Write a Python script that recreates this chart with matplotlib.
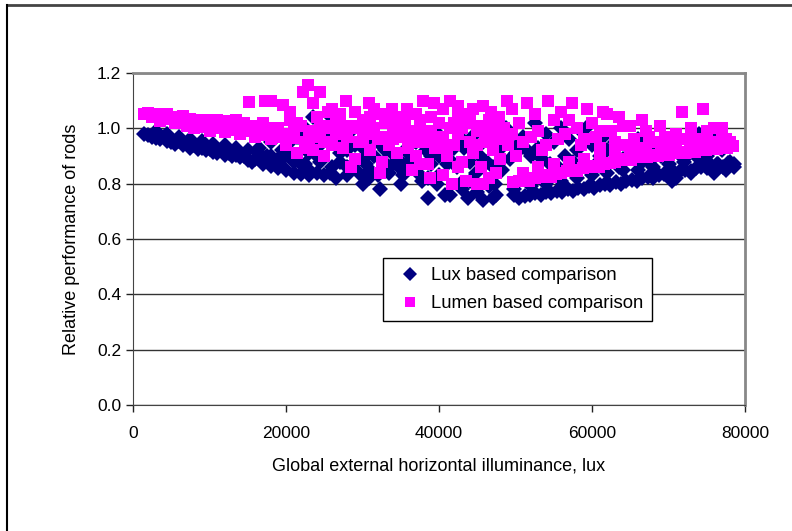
import matplotlib
matplotlib.use("Agg")
import matplotlib.pyplot as plt
from matplotlib.lines import Line2D

plt.rcParams['font.family'] = ['Liberation Sans', 'DejaVu Sans']

# Lux based comparison: dense band at low illuminance
lux_x_left = [1500, 2000, 2500, 3000, 3500, 4000, 4500, 5000, 5500, 6000, 6500, 7000,
              7500, 8000, 8500, 9000, 9500, 10000, 10500, 11000, 11500, 12000, 12500,
              13000, 13500, 14000, 14500, 15000, 15500, 16000, 17000, 18000, 19000,
              20000, 21000, 22000, 23000, 24000, 25000,
              3000, 4500, 6000, 7500, 9000, 10500, 12000, 13500, 15000, 16500, 18000,
              19500, 21000, 22500]
lux_y_left = [0.98, 0.975, 0.97, 0.965, 0.96, 0.97, 0.955, 0.95, 0.945, 0.955, 0.94, 0.945,
              0.93, 0.94, 0.925, 0.93, 0.92, 0.925, 0.915, 0.91, 0.92, 0.905, 0.91,
              0.90, 0.905, 0.895, 0.90, 0.885, 0.88, 0.89, 0.87, 0.865, 0.855,
              0.85, 0.84, 0.835, 0.83, 0.84, 0.83,
              0.99, 0.98, 0.97, 0.96, 0.955, 0.945, 0.94, 0.93, 0.92, 0.91, 0.90,
              0.89, 0.88, 0.87]

# Lux: scattered middle
lux_x_mid = [16500, 17500, 18500, 19500, 20500, 21000, 21500, 22000, 22500, 23000, 23500,
             24000, 24500, 25000, 25500, 26000, 26500, 27000, 27500, 28000, 28500, 29000,
             29500, 30000, 30500, 31000, 31500, 32000, 32300, 32800, 33300, 33800, 34300,
             34800, 35300, 35800, 36300, 36800, 37300, 37800, 38300, 38600, 39000, 39500,
             40000, 40500, 40800, 41300, 41800, 42300, 42800, 43300, 43800, 44300, 44800,
             45300, 45800, 46300, 46800, 47000, 47300, 47800, 48300, 48800, 49300, 49800,
             50300, 18000, 20000, 22000, 24000, 26000, 28000, 30000, 32000, 34000, 36000,
             38000, 40000, 42000, 44000, 46000, 48000, 50000, 41500, 39800, 43000, 45000,
             47500, 35000, 33500, 30800, 28000, 25800,
             19000, 23000, 27000, 29000, 31000, 33000, 35000, 37000, 39000, 41000, 43000,
             45000, 47000, 49000, 36000, 38500, 44000, 46500, 26500, 30000]
lux_y_mid = [0.93, 0.90, 0.88, 0.92, 0.95, 0.89, 0.97, 0.87, 1.00, 0.85, 1.04,
             0.93, 0.88, 0.97, 1.05, 0.86, 0.82, 0.91, 0.95, 0.86, 0.99, 0.88,
             0.84, 0.93, 0.87, 0.97, 0.90, 0.83, 0.78, 0.88, 0.95, 0.91, 1.00,
             0.86, 0.83, 0.93, 0.89, 0.97, 0.84, 0.81, 0.92, 0.75, 0.87, 0.99,
             0.83, 0.94, 0.76, 0.89, 1.01, 0.86, 0.80, 0.93, 0.75, 0.97, 0.84,
             0.90, 0.74, 0.88, 0.95, 0.75, 0.80, 0.92, 0.85, 1.00, 0.89, 0.78,
             0.94, 0.95, 0.91, 0.96, 0.90, 0.98, 0.92, 0.89, 0.95, 0.87, 0.91,
             0.96, 0.90, 0.93, 0.88, 0.99, 0.95, 0.91, 0.76, 0.80, 0.78, 0.77,
             0.76, 0.80, 0.84, 0.82, 0.83, 0.84,
             0.89, 0.91, 0.88, 0.94, 0.85, 0.92, 0.88, 0.95, 0.90, 0.87, 0.96,
             0.93, 0.86, 0.96, 0.86, 0.82, 0.81, 0.79, 0.96, 0.80]

# Lux: scattered upper group at high illuminance
lux_x_right = [51000, 52000, 52500, 53000, 54000, 54500, 55000, 56000, 56500, 57000, 58000,
               58500, 59000, 59500, 60000, 61000, 61500, 62000, 63000, 64000, 65000, 66000,
               66500, 67000, 68000, 69000, 70000, 71000, 72000, 73000, 74000, 75000, 76000,
               76500, 77000, 78000, 78500, 77500, 76000, 74500, 73000, 71000, 70500,
               53500, 55500, 57500, 60500, 63500, 67500, 51500]
lux_y_right = [0.97, 0.90, 1.02, 0.93, 0.98, 0.87, 0.95, 1.00, 0.90, 0.96, 0.92,
               0.99, 0.88, 1.01, 0.94, 0.90, 0.97, 0.92, 0.95, 0.89, 0.93, 0.96,
               0.88, 0.91, 0.94, 0.90, 0.92, 0.95, 0.89, 0.93, 0.98, 0.90, 0.96,
               0.87, 0.92, 0.88, 0.86, 0.85, 0.84, 0.88, 0.84, 0.82, 0.81,
               0.89, 0.86, 0.88, 0.87, 0.86, 0.88, 0.92]

# Lux: rising lower band at high illuminance
lux_x_band = [49800, 50500, 51200, 51900, 52600, 53300, 54000, 54700, 55400, 56100, 56800,
              57500, 58200, 58900, 59600, 60300, 61000, 61700, 62400, 63100, 63800, 64500,
              65200, 65900, 66600, 67300, 68000, 68700, 69400, 70100, 70800, 71500, 72200,
              72900, 73600, 74300, 75000, 75700, 76400, 77100, 77800, 78500,
              52000, 54000, 56000, 58000, 60000, 62000, 64000, 66000, 68000, 70000, 72000, 74000]
lux_y_band = [0.76, 0.75, 0.755, 0.76, 0.765, 0.76, 0.77, 0.765, 0.775, 0.77, 0.78,
              0.775, 0.785, 0.78, 0.79, 0.785, 0.795, 0.80, 0.795, 0.805, 0.80, 0.81,
              0.815, 0.81, 0.82, 0.825, 0.82, 0.83, 0.835, 0.83, 0.84, 0.845, 0.85,
              0.845, 0.855, 0.86, 0.855, 0.865, 0.87, 0.86, 0.875, 0.87,
              0.79, 0.80, 0.81, 0.82, 0.83, 0.84, 0.85, 0.85, 0.86, 0.87, 0.88, 0.89]

# Lumen based comparison: dense band at low illuminance
lumen_x_left = [1500, 2000, 2500, 3000, 3500, 4000, 4500, 5000, 5500, 6000, 6500, 7000,
                7500, 8000, 8500, 9000, 9500, 10000, 10500, 11000, 11500, 12000, 12500,
                13000, 13500, 14000, 14500, 15000, 16000, 17000, 18000,
                8000, 10000, 12000, 14000, 16000, 18000, 20000,
                3500, 5500, 7000, 9000, 11000, 13000, 15000, 17000, 19000, 21000]
lumen_y_left = [1.05, 1.055, 1.04, 1.05, 1.045, 1.04, 1.05, 1.035, 1.04, 1.03, 1.045, 1.03,
                1.035, 1.025, 1.03, 1.02, 1.03, 1.025, 1.015, 1.03, 1.02, 1.025, 1.01,
                1.02, 1.03, 1.015, 1.02, 1.005, 1.01, 0.99, 1.00,
                1.00, 0.99, 0.985, 0.98, 0.97, 0.96, 0.955,
                1.025, 1.02, 1.01, 1.005, 1.0, 0.995, 0.99, 0.975, 0.97, 0.965]

# Lumen: scattered middle
lumen_x_mid = [15100, 17200, 18100, 19600, 20500, 22200, 22900, 23500, 24400, 25500, 26500,
               27900, 29000, 30900, 31500, 32500, 33800, 35000, 35800, 37000, 37900, 39400,
               40500, 41400, 42500, 43500, 44500, 45800, 46800, 47800, 48900, 49500,
               16000, 17000, 18000, 19000, 20000, 20500, 21000, 21500, 22000, 22500, 23000,
               23500, 24000, 24500, 25000, 25500, 26000, 26500, 27000, 27500, 28000, 28500,
               29000, 29500, 30000, 30500, 31000, 31500, 32000, 32500, 33000, 33500, 34000,
               34500, 35000, 35500, 36000, 36500, 37000, 37500, 38000, 38500, 39000, 39500,
               40000, 40500, 41000, 41500, 42000, 42500, 43000, 43500, 44000, 44500, 45000,
               45500, 46000, 46500, 47000, 47500, 48000, 48500, 49000, 49500, 50000,
               28500, 32300, 36500, 38800, 40500, 41700, 43500, 45000, 45800, 46500, 47500,
               37500, 42500,
               21000, 24000, 27000, 30000, 33000, 36000, 39000, 42000, 45000, 48000,
               22500, 26000, 29500, 34500, 38000, 41000, 44000, 47000, 25000, 31000,
               20000, 23000, 26000, 28000, 31000, 34000, 37000, 40000, 43000, 46000,
               21500, 24500, 27500, 30500, 33500, 36500, 39500, 42500, 45500, 48500]
lumen_y_mid = [1.096, 1.10, 1.10, 1.085, 1.06, 1.13, 1.157, 1.09, 1.13, 1.06, 1.04,
               1.10, 1.06, 1.09, 1.07, 1.05, 1.07, 1.04, 1.07, 1.05, 1.10, 1.09,
               1.07, 1.10, 1.08, 1.05, 1.07, 1.08, 1.06, 1.04, 1.10, 1.07,
               0.98, 1.02, 0.96, 1.00, 0.94, 1.03, 0.97, 0.91, 1.01, 0.95, 0.99,
               0.92, 1.04, 0.97, 0.90, 1.00, 0.94, 0.98, 1.02, 0.93, 0.97, 1.01,
               0.89, 0.95, 1.03, 0.98, 0.92, 1.00, 0.96, 0.88, 1.02, 0.94, 0.99,
               0.91, 0.97, 1.01, 0.93, 0.98, 0.90, 1.03, 0.95, 0.87, 0.99, 0.93,
               1.02, 0.96, 0.90, 1.00, 0.94, 0.98, 0.88, 1.02, 0.95, 0.91, 0.99,
               0.86, 0.97, 1.03, 0.92, 0.96, 0.89, 1.00, 0.94, 0.98, 0.90,
               0.86, 0.84, 0.85, 0.82, 0.83, 0.80, 0.81, 0.80, 0.80, 0.82, 0.84,
               0.87, 0.86,
               1.00, 0.99, 1.05, 0.96, 0.97, 1.05, 1.04, 1.02, 0.94, 0.97,
               0.93, 1.07, 1.00, 1.03, 0.99, 0.93, 1.03, 1.00, 0.95, 1.04,
               0.98, 0.96, 1.01, 0.99, 1.02, 0.96, 0.99, 0.97, 1.00, 0.95,
               1.02, 1.01, 0.98, 1.00, 1.03, 0.95, 0.97, 1.04, 1.01, 0.96]

# Lumen: scattered upper group at high illuminance
lumen_x_right = [51500, 52500, 53000, 54300, 55000, 55500, 56000, 57400, 58000, 58500, 59300,
                 60000, 60500, 61000, 62000, 62500, 63000, 64000, 65000, 65500, 66000, 67000,
                 68000, 68900, 69500, 70000, 71000, 71800, 72500, 73000, 74500, 75000, 75500,
                 76000, 77000, 77500, 78000, 73500, 76500, 69000, 66500, 63500, 61500, 57000,
                 53500, 51000, 50500,
                 52000, 54000, 56500, 59000, 61000, 64500, 67500, 70500, 74000, 77000]
lumen_y_right = [1.09, 1.05, 0.99, 1.10, 1.03, 0.96, 1.06, 1.09, 1.00, 0.94, 1.07,
                 1.02, 0.97, 0.93, 1.05, 0.99, 0.95, 1.01, 1.01, 0.96, 0.92, 0.99,
                 0.95, 1.01, 0.97, 0.93, 0.98, 1.06, 0.96, 1.00, 1.07, 0.99, 0.95,
                 1.00, 1.00, 0.96, 0.95, 0.93, 0.94, 0.92, 1.03, 1.04, 1.06, 1.03,
                 0.92, 0.95, 1.02,
                 0.97, 0.94, 0.98, 0.96, 0.99, 0.94, 0.97, 0.95, 0.96, 0.97]

# Lumen: rising lower band at high illuminance
lumen_x_band = [49700, 50400, 51100, 51800, 52500, 53200, 53900, 54600, 55300, 56000, 56700,
                57400, 58100, 58800, 59500, 60200, 60900, 61600, 62300, 63000, 63700, 64400,
                65100, 65800, 66500, 67200, 67900, 68600, 69300, 70000, 70700, 71400, 72100,
                72800, 73500, 74200, 74900, 75600, 76300, 77000, 77700, 78400,
                51000, 53000, 55000, 57000, 59000, 61000, 63000, 65000, 67000, 69000, 71000, 73000]
lumen_y_band = [0.805, 0.81, 0.815, 0.81, 0.82, 0.825, 0.83, 0.825, 0.835, 0.84, 0.845,
                0.85, 0.845, 0.855, 0.86, 0.865, 0.86, 0.87, 0.875, 0.88, 0.885, 0.89,
                0.885, 0.895, 0.90, 0.895, 0.905, 0.90, 0.91, 0.905, 0.91, 0.915, 0.91,
                0.92, 0.915, 0.925, 0.92, 0.93, 0.925, 0.935, 0.93, 0.935,
                0.84, 0.86, 0.87, 0.88, 0.89, 0.90, 0.91, 0.92, 0.93, 0.94, 0.95, 0.95]

lux_x = lux_x_left + lux_x_mid + lux_x_right + lux_x_band
lux_y = lux_y_left + lux_y_mid + lux_y_right + lux_y_band
lumen_x = lumen_x_left + lumen_x_mid + lumen_x_right + lumen_x_band
lumen_y = lumen_y_left + lumen_y_mid + lumen_y_right + lumen_y_band

y_ticks = [0.0, 0.2, 0.4, 0.6, 0.8, 1.0, 1.2]
x_ticks = [0, 20000, 40000, 60000, 80000]

fig = plt.figure(figsize=(7.92, 5.31), dpi=100)
ax = fig.add_axes([133 / 792, 1 - 405 / 531, 612 / 792, 332 / 531])

ax.plot(lux_x, lux_y, linestyle='none', marker='D', markersize=8.5,
        color='#000080', markeredgewidth=0, label='Lux based comparison')
ax.plot(lumen_x, lumen_y, linestyle='none', marker='s', markersize=8.3,
        color='#FF00FF', markeredgewidth=0, label='Lumen based comparison')

ax.set_xlim(0, 80000)
ax.set_ylim(0, 1.2)
ax.set_xticks(x_ticks)
ax.set_yticks(y_ticks)
ax.set_yticklabels(['%.1f' % v for v in y_ticks])
ax.tick_params(direction='out', length=5, width=1, labelsize=12.5, colors='#222222',
               labelcolor='black')
ax.tick_params(axis='x', pad=10)
ax.grid(axis='y', color='#333333', linewidth=1)
ax.set_axisbelow(True)

ax.spines['left'].set_color('#444444')
ax.spines['bottom'].set_color('#444444')
ax.spines['top'].set_color('#888888')
ax.spines['right'].set_color('#888888')
ax.spines['top'].set_linewidth(2)
ax.spines['right'].set_linewidth(2)

ax.set_xlabel('Global external horizontal illuminance, lux', fontsize=13, labelpad=12)
ax.set_ylabel('Relative performance of rods', fontsize=13, labelpad=12)

leg = ax.legend(loc='upper left', bbox_to_anchor=(0.408, 0.443), fontsize=13.3,
                frameon=True, fancybox=False, edgecolor='black', framealpha=1,
                handlelength=2.0, handletextpad=0.1, borderpad=0.5, labelspacing=0.6,
                borderaxespad=0, markerscale=0.85)
leg.get_frame().set_linewidth(1)

# chart area frame (top and left edges visible)
fig.add_artist(Line2D([7 / 792, 1], [1 - 5 / 531, 1 - 5 / 531], color='#444444', linewidth=2))
fig.add_artist(Line2D([7 / 792, 7 / 792], [0, 1 - 5 / 531], color='black', linewidth=1.5))

fig.savefig('out.png', dpi=100)
